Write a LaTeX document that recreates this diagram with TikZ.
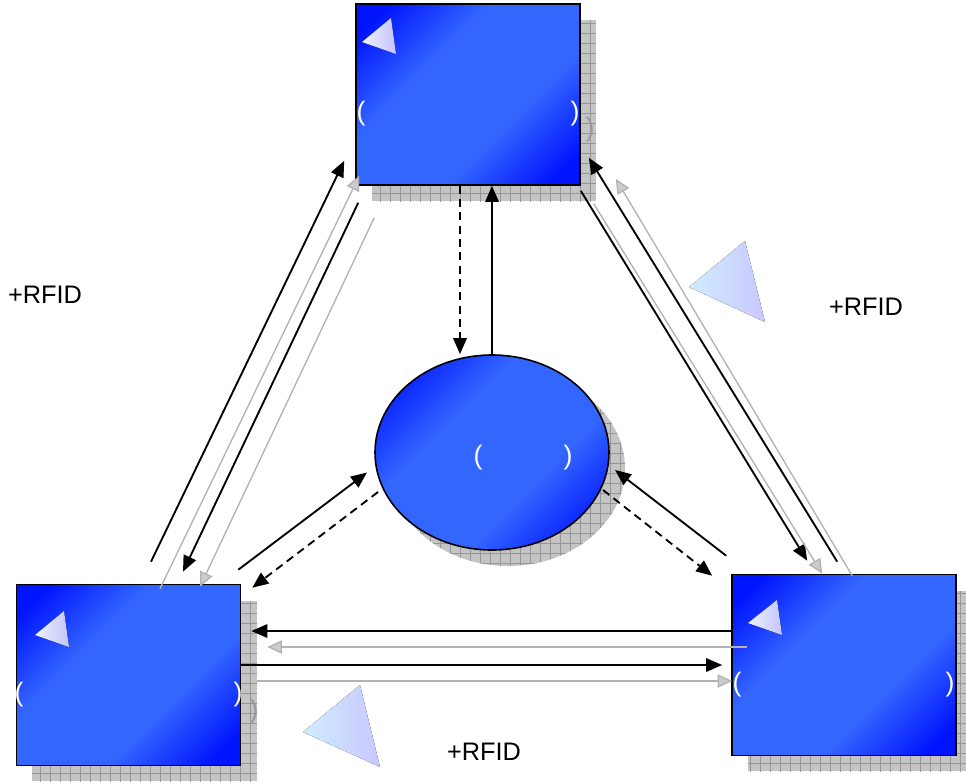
\documentclass[tikz,border=0pt]{standalone}
\usepackage{fontspec}
\setmainfont{Liberation Sans}
\usetikzlibrary{arrows.meta,calc,shapes.geometric,patterns.meta}

\definecolor{boxdark}{RGB}{0,20,255}
\definecolor{boxlight}{RGB}{51,102,255}
\definecolor{shadowgray}{RGB}{196,196,196}
\definecolor{gridgray}{RGB}{150,150,150}
\definecolor{triwhite}{RGB}{236,242,255}
\definecolor{trilav}{RGB}{196,196,250}
\definecolor{tricyan}{RGB}{208,236,255}
\definecolor{trilavbig}{RGB}{200,200,255}

\pgfdeclarehorizontalshading{stationshade}{100bp}{color(0bp)=(boxdark); color(20bp)=(boxdark);
  color(38bp)=(boxlight); color(62bp)=(boxlight); color(80bp)=(boxdark); color(100bp)=(boxdark)}

\tikzset{
  station/.style={draw=black, line width=1.2pt, inner sep=0pt,
    minimum width=168pt, minimum height=135.75pt,
    shading=stationshade, shading angle=-45},
  hubnode/.style={ellipse, draw=black, line width=1.2pt, inner sep=0pt,
    minimum width=175.5pt, minimum height=146.25pt,
    shading=stationshade, shading angle=-45},
  gridshadow/.style={draw=none, preaction={fill=shadowgray},
    pattern={Hatch[distance=7.5pt, line width=0.5pt]}, pattern color=gridgray},
  paren/.style={text=white, font=\fontsize{20}{24}\selectfont, inner sep=0pt},
  ghostparen/.style={paren, text=gray!80},
  rfid/.style={font=\fontsize{19}{23}\selectfont, inner sep=0pt},
  link/.style={line width=1.4pt, -{Triangle[length=12pt,width=10pt]}},
  dlink/.style={link, dash pattern=on 6pt off 4pt},
  ghost/.style={draw=gray!60, line width=1pt,
    -{Triangle[length=11pt,width=10pt,fill=gray!40,color=gray!60]}},
}

\begin{document}
\begin{tikzpicture}[x=0.75pt,y=0.75pt,yscale=-1,xscale=1]
	\useasboundingbox (0,0) rectangle (966,783);

	% shadows
	\path[gridshadow] (372,20) rectangle (596,201);
	\path[gridshadow] (32,601) rectangle (257,781);
	\path[gridshadow] (748,591) rectangle (972,771);
	\path[gridshadow] (508,468.5) ellipse [x radius=117, y radius=97.5];
	\node[ghostparen] (topG) at (590,130) {)};
	\node[ghostparen] (leftG) at (254,712) {)};

	% stations and hub
	\node[station] (top) at (468,94.5) {};
	\node[station] (left) at (128.5,675) {};
	\node[station] (right) at (844,665) {};
	\node[hubnode] (hub) at (492,452.5) {};

	% small triangles
	\fill[left color=triwhite, right color=trilav] (362,42) -- (391,18) -- (396,54) -- cycle;
	\fill[left color=triwhite, right color=trilav] (35,635) -- (64,611) -- (69,647) -- cycle;
	\fill[left color=triwhite, right color=trilav] (748,623) -- (777,600) -- (782,635) -- cycle;
	% big triangles
	\fill[left color=tricyan, right color=trilavbig] (689,287) -- (745,241) -- (765,322) -- cycle;
	\fill[left color=tricyan, right color=trilavbig] (303,732) -- (360,685) -- (380,767) -- cycle;

	% texts
	\node[paren] (topL) at (361,113.5) {(};
	\node[paren] (topR) at (575,113.5) {)};
	\node[paren] (leftL) at (19,695) {(};
	\node[paren] (leftR) at (238,695) {)};
	\node[paren] (rightL) at (737,685) {(};
	\node[paren] (rightR) at (950,685) {)};
	\node[paren] (hubL) at (478,458) {(};
	\node[paren] (hubR) at (568,458) {)};
	\node[rfid] (rfidA) at (45,295) {+RFID};
	\node[rfid] (rfidB) at (866,307) {+RFID};
	\node[rfid] (rfidC) at (484,752) {+RFID};

	% top - left
	\draw[link] ($(left.north)+(22.5,-22)$) -- ($(top.south west)+(-11,-25)$);
	\draw[ghost] ($(left.north)+(31.5,5)$) -- ($(top.south west)+(4,-10)$);
	\draw[link] ($(top.south west)+(3,17)$) -- ($(left.north)+(54.5,-12)$);
	\draw[ghost] ($(top.south west)+(19,32)$) -- ($(left.north)+(71.5,3)$);

	% top - right
	\draw[link] ($(top.south east)+(0,5)$) -- ($(right.north west)+(76,-13)$);
	\draw[ghost] ($(top.south east)+(13,18)$) -- ($(right.north west)+(91,0)$);
	\draw[link] ($(right.north west)+(106,-12)$) -- ($(top.south east)+(8,-28)$);
	\draw[ghost] ($(right.north west)+(121,2)$) -- ($(top.south east)+(35,-7)$);

	% left - right
	\draw[link] ($(right.west)+(0,-34)$) -- ($(left.east)+(10,-44)$);
	\draw[ghost] ($(right.west)+(16,-18)$) -- ($(left.east)+(26,-28)$);
	\draw[link] ($(left.east)+(0,-10)$) -- ($(right.west)+(-9,0)$);
	\draw[ghost] ($(left.east)+(16,6)$) -- ($(right.west)+(1,16)$);

	% hub links
	\draw[dlink] ($(top.south)+(-8,0)$) -- ($(hub.north)+(-32,0)$);
	\draw[link] (hub.north) -- ($(top.south)+(24,0)$);
	\draw[link] ($(left.north east)+(-3,-14)$) -- ($(hub.center)+(-125,20)$);
	\draw[dlink] ($(hub.center)+(-114,39.5)$) -- ($(left.north east)+(11,4)$);
	\draw[link] ($(right.north west)+(-5,-18)$) -- ($(hub.center)+(123,17.5)$);
	\draw[dlink] ($(hub.center)+(111,37.5)$) -- ($(right.north west)+(-19,2)$);
\end{tikzpicture}
\end{document}
